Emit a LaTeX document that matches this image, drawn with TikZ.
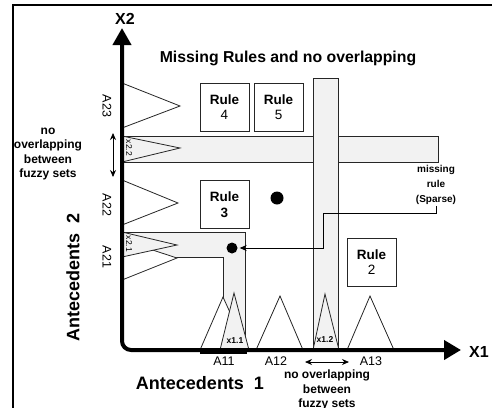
\documentclass[tikz,border=0pt]{standalone}
\usepackage{fontspec}
\setmainfont{Liberation Sans}
\usetikzlibrary{arrows.meta}
\definecolor{bandgray}{RGB}{242,242,242}
\tikzset{
  thin line/.style={line width=0.8pt},
  band/.style={thin line, fill=bandgray, draw=black!85},
  tri/.style={thin line, draw=black!85, fill=white},
  trig/.style={thin line, draw=black!85, fill=bandgray},
  rulebox/.style={draw=black!85, thin line, fill=white, minimum width=49pt, minimum height=48pt, inner sep=0pt, align=center, font=\fontsize{13.5}{15.5}\selectfont},
  dot/.style={circle, fill=black, inner sep=0pt},
  lbl/.style={font=\fontsize{12.5}{13}\selectfont, inner sep=0pt},
  small/.style={font=\fontsize{8.5}{9}\selectfont, inner sep=0pt},
  note/.style={font=\bfseries\fontsize{12}{14.5}\selectfont, align=center, inner sep=0pt},
  big/.style={font=\bfseries\fontsize{18}{20}\selectfont, inner sep=0pt},
  axislbl/.style={font=\bfseries\fontsize{16}{18}\selectfont, inner sep=0pt},
  dbl/.style={thin line, {Stealth[length=7pt,width=6pt]}-{Stealth[length=7pt,width=6pt]}},
}
\begin{document}
\begin{tikzpicture}[x=1pt,y=-1pt]
\useasboundingbox (0,0) rectangle (492,407);
% frame
\draw[line width=2.2pt] (13,420) -- (13,5) -- (500,5);

% title
\node[font=\bfseries\fontsize{15.8}{17}\selectfont, inner sep=0pt] (title) at (288,58) {Missing Rules and no overlapping};

% horizontal band x2.2
\draw[band] (122,136) rectangle (438,162);
% vertical band x1.2
\draw[band] (313,78) rectangle (338,350);
% L band x2.1 / x1.1
\draw[band] (122,232) -- (245,232) -- (245,350) -- (223,350) -- (223,257) -- (122,257) -- cycle;

% triangles on X2
\draw[tri] (122,83) -- (180,106) -- (122,128);
\draw[trig] (122,136) -- (180,148) -- (122,162);
\draw[tri] (122,180) -- (178,203) -- (122,225);
\draw[tri] (122,240) -- (177,258) -- (122,280);
\draw[trig] (122,232) -- (177,245) -- (122,257);

% triangles on X1
\draw[tri] (200,350) -- (223,297) -- (247,350);
\draw[trig] (220,350) -- (234,293) -- (249,350);
\draw[tri] (256,350) -- (280,296) -- (303,350);
\draw[trig] (313,350) -- (325,294) -- (339,350);
\draw[tri] (347,350) -- (370,296) -- (394,350);
\draw[line width=1.5pt] (200,353) -- (247,353);

% axes
\draw[line width=4pt, rounded corners=9pt, {Triangle[length=17pt,width=18pt]}-{Triangle[length=17pt,width=19pt]}]
  (122,28) -- (122,350) -- (461,350);
\node[axislbl] (x2) at (125,19) {X2};
\node[axislbl] (x1) at (479,352) {X1};

% rules
\node[rulebox] (r4) at (224.5,107) {\textbf{Rule}\\4};
\node[rulebox] (r5) at (278.5,107) {\textbf{Rule}\\5};
\node[rulebox] (r3) at (224.5,204.5) {\textbf{Rule}\\\textbf{3}};
\node[rulebox] (r2) at (371.5,262) {\textbf{Rule}\\2};

% dots
\node[dot, minimum size=13pt] (d1) at (277,198) {};
\node[dot, minimum size=11pt] (d2) at (232,248) {};

% missing rule
\node[font=\bfseries\fontsize{10}{15}\selectfont, align=center, inner sep=1pt] (mr) at (436,185) {missing\\rule\\(Sparse)};
\draw[thin line, -{Stealth[length=7pt,width=6pt]}, shorten >=2pt] (mr.south) |- (323,213) |- (d2.east);

% axis set labels
\node[lbl, rotate=-90] (a23) at (107,106) {A23};
\node[lbl, rotate=-90] (a22) at (107,205) {A22};
\node[lbl, rotate=-90] (a21) at (107,257) {A21};
\node[small, rotate=-90] (x22) at (129,148) {x2.2};
\node[small, rotate=-90] (x21) at (129,244) {x2.1};
\node[small, font=\bfseries\fontsize{8.5}{9}\selectfont] (x11) at (235,341) {x1.1};
\node[small, font=\bfseries\fontsize{8.5}{9}\selectfont] (x12) at (325,340) {x1.2};
\node[lbl] (a11) at (224,361) {A11};
\node[lbl] (a12) at (276,361) {A12};
\node[lbl] (a13) at (371,361) {A13};

% antecedents
\node[big] (ant1) at (200,383) {Antecedents\ \ 1};
\node[big, rotate=90] (ant2) at (73,277) {Antecedents\ \ 2};

% no overlapping notes
\node[note] (nl) at (48,154) {no\\overlapping\\between\\fuzzy sets};
\coordinate (lv1) at (113,133);
\coordinate (lv2) at (113,177);
\draw[dbl] (lv1) -- (lv2);
\node[note, anchor=north] (nb) at (327,370) {no overlapping\\between\\fuzzy sets};
\coordinate (lh1) at (305,362);
\coordinate (lh2) at (349,362);
\draw[dbl] (lh1) -- (lh2);
\end{tikzpicture}
\end{document}
